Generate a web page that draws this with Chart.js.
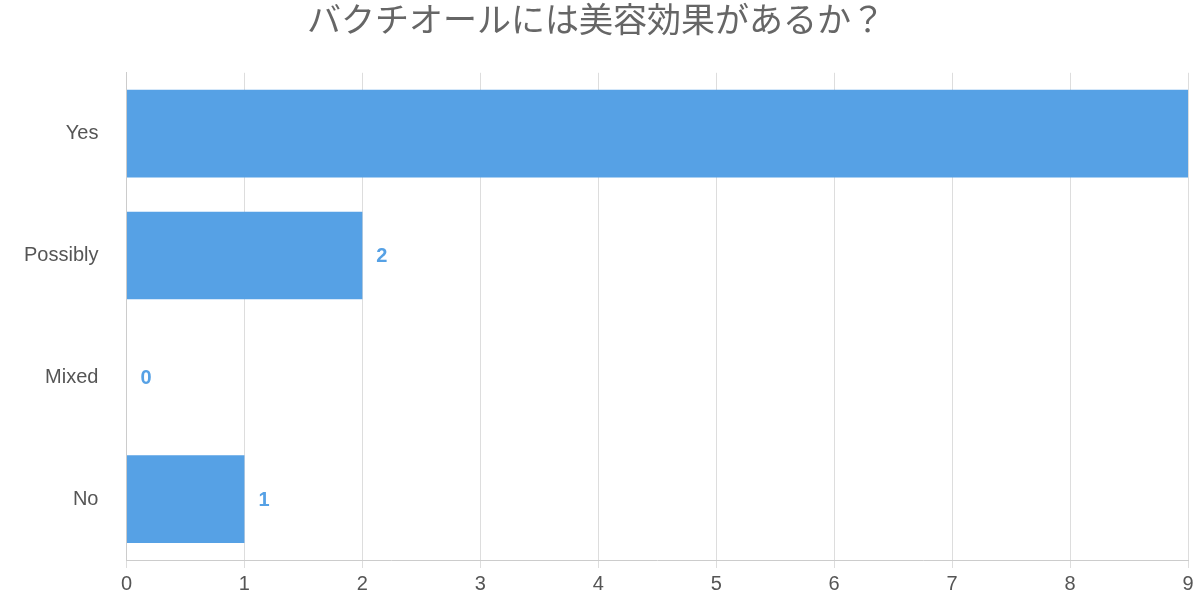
<!DOCTYPE html>
<html>
<head>
<meta charset="utf-8">
<script src="https://cdn.jsdelivr.net/npm/chart.js@4"></script>
<style>
  html, body { margin: 0; padding: 0; background: #fff; }
  #wrap { width: 1200px; height: 600px; }
</style>
</head>
<body>
<div id="wrap"><canvas id="c"></canvas></div>
<script>
const TITLE = "バクチオールには美容効果があるか？";
const CATEGORIES = ["Yes", "Possibly", "Mixed", "No"];
const VALUES = [9, 2, 0, 1];
const BAR_COLOR = "#56a1e5";
const FONT = "'Helvetica Neue', 'Liberation Sans', 'Noto Sans CJK JP', sans-serif";

// value labels to the right of each bar, dropped when they'd fall outside the plot
const valueLabels = {
  id: "valueLabels",
  afterDatasetsDraw(chart) {
    const ctx = chart.ctx;
    const meta = chart.getDatasetMeta(0);
    const area = chart.chartArea;
    ctx.save();
    ctx.font = "bold 20px " + FONT;
    ctx.fillStyle = BAR_COLOR;
    ctx.textAlign = "left";
    ctx.textBaseline = "middle";
    meta.data.forEach((bar, i) => {
      const text = String(VALUES[i]);
      const x = bar.x + 14;
      if (x + ctx.measureText(text).width > area.right) return;
      ctx.fillText(text, x, bar.y + 1);
    });
    ctx.restore();
  }
};

new Chart(document.getElementById("c"), {
  type: "bar",
  data: {
    labels: CATEGORIES,
    datasets: [{ data: VALUES, backgroundColor: BAR_COLOR, categoryPercentage: 0.72, barPercentage: 1 }]
  },
  plugins: [valueLabels],
  options: {
    indexAxis: "y",
    responsive: true, maintainAspectRatio: false, animation: false,
    layout: { padding: { left: 4, right: 12, top: 0, bottom: 0 } },
    plugins: {
      legend: { display: false },
      tooltip: { enabled: false },
      title: {
        display: true, text: TITLE, color: "#666",
        font: { family: FONT, size: 34, weight: "normal" },
        padding: { top: 2, bottom: 30 }
      }
    },
    scales: {
      x: {
        min: 0, max: 9,
        ticks: { stepSize: 1, color: "#555", font: { family: FONT, size: 20 }, padding: 4 },
        grid: { color: "#ddd", tickLength: 8 },
        border: { color: "#ccc" }
      },
      y: {
        ticks: { color: "#555", font: { family: FONT, size: 20 }, padding: 20 },
        grid: { display: false },
        border: { color: "#ccc" }
      }
    }
  }
});
</script>
</body>
</html>
